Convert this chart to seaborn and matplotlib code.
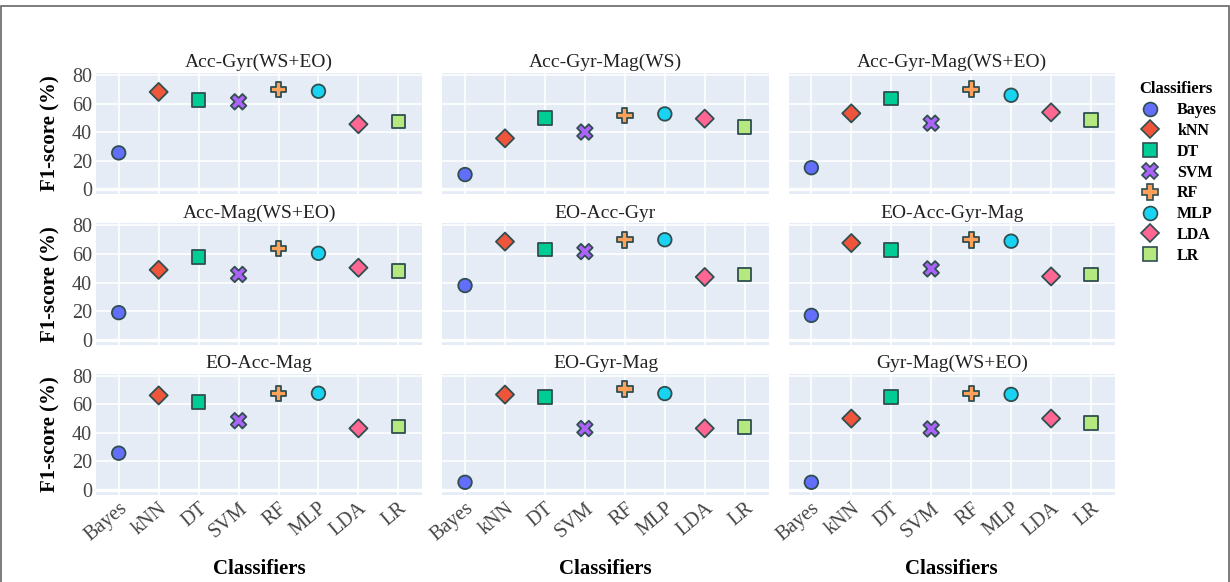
import numpy as np
import pandas as pd
import matplotlib
matplotlib.use('Agg')
import matplotlib.pyplot as plt
from matplotlib.lines import Line2D
from matplotlib.patches import Rectangle
import seaborn as sns

classifiers = ['Bayes', 'kNN', 'DT', 'SVM', 'RF', 'MLP', 'LDA', 'LR']
combos = ['Acc-Gyr(WS+EO)', 'Acc-Gyr-Mag(WS)', 'Acc-Gyr-Mag(WS+EO)',
          'Acc-Mag(WS+EO)', 'EO-Acc-Gyr', 'EO-Acc-Gyr-Mag',
          'EO-Acc-Mag', 'EO-Gyr-Mag', 'Gyr-Mag(WS+EO)']

# F1-score (%) per sensor combination, classifiers in the order above
f1_acc_gyr_ws_eo = [25.5, 68.2, 62.5, 61.3, 69.8, 68.7, 45.6, 47.4]
f1_acc_gyr_mag_ws = [10.3, 35.7, 50.0, 40.1, 51.6, 52.8, 49.5, 43.7]
f1_acc_gyr_mag_ws_eo = [15.1, 53.2, 63.6, 46.3, 70.1, 65.9, 53.9, 48.4]
f1_acc_mag_ws_eo = [18.9, 48.9, 57.8, 45.7, 63.9, 60.5, 50.4, 48.0]
f1_eo_acc_gyr = [37.9, 68.7, 63.1, 61.7, 70.0, 70.0, 43.9, 45.7]
f1_eo_acc_gyr_mag = [17.0, 67.7, 63.0, 49.6, 70.0, 69.0, 44.3, 45.7]
f1_eo_acc_mag = [25.8, 66.3, 61.7, 48.6, 67.8, 67.8, 43.2, 44.5]
f1_eo_gyr_mag = [5.4, 66.9, 65.0, 43.1, 70.8, 67.6, 43.2, 44.3]
f1_gyr_mag_ws_eo = [5.4, 50.1, 65.1, 42.8, 67.8, 67.0, 50.1, 47.1]

scores = [f1_acc_gyr_ws_eo, f1_acc_gyr_mag_ws, f1_acc_gyr_mag_ws_eo,
          f1_acc_mag_ws_eo, f1_eo_acc_gyr, f1_eo_acc_gyr_mag,
          f1_eo_acc_mag, f1_eo_gyr_mag, f1_gyr_mag_ws_eo]

palette = dict(zip(classifiers, ['#636EFA', '#EF553B', '#00CC96', '#AB63FA',
                                 '#FFA15A', '#19D3F3', '#FF6692', '#B6E880']))
markers = dict(zip(classifiers, ['o', 'D', 's', 'X', 'P', 'o', 'D', 's']))
# marker areas so the shapes look the same size as in the plotly original
sizes = dict(zip(classifiers, [95, 85, 95, 125, 125, 95, 85, 95]))
leg_sizes = dict(zip(classifiers, [10, 9, 10, 11.5, 11.5, 10, 9, 10]))

rows = []
for name, vals in zip(combos, scores):
    for c, v in zip(classifiers, vals):
        rows.append({'Combination': name, 'Classifier': c, 'F1': v})
df = pd.DataFrame(rows)

serif = ['Liberation Serif', 'DejaVu Serif']
plt.rcParams['font.family'] = serif

fig, axes = plt.subplots(3, 3, figsize=(12.3, 5.82), dpi=100)
fig.subplots_adjust(left=0.078, right=0.9065, top=0.8746, bottom=0.1495,
                    wspace=0.061, hspace=0.24)

edge = '#2F4F4F'
for i, (ax, name) in enumerate(zip(axes.flat, combos)):
    sub = df[df['Combination'] == name]
    ax.set_facecolor('#E5ECF6')
    ax.set_axisbelow(True)
    ax.grid(True, color='white', linewidth=1.2)
    ax.axhline(0, color='white', linewidth=2.4, zorder=1)
    sns.scatterplot(data=sub, x='Classifier', y='F1', hue='Classifier',
                    style='Classifier', size='Classifier',
                    palette=palette, markers=markers, sizes=sizes,
                    hue_order=classifiers, style_order=classifiers,
                    size_order=classifiers,
                    edgecolor=edge, linewidth=1.3, legend=False,
                    ax=ax, zorder=3)
    ax.set_xlim(-0.57, 7.6)
    ax.set_ylim(-3.5, 81.5)
    ax.set_yticks([0, 20, 40, 60, 80])
    ax.set_xticks(range(len(classifiers)))
    for s in ax.spines.values():
        s.set_visible(False)
    ax.tick_params(length=0, labelsize=14.5, colors='#444444', pad=3)
    ax.set_title(name, fontsize=14, color='#222222', pad=4)
    ax.set_xlabel('')
    ax.set_ylabel('')
    if i % 3 == 0:
        ax.set_ylabel('F1-score (%)', fontsize=15, fontweight='bold',
                      color='black', labelpad=8)
    else:
        ax.set_yticklabels([])
    if i >= 6:
        ax.set_xticklabels(classifiers, rotation=40, ha='right',
                           rotation_mode='anchor', fontsize=14.5)
        ax.set_xlabel('Classifiers', fontsize=15, fontweight='bold',
                      color='black', labelpad=10)
    else:
        ax.set_xticklabels([])

handles = [Line2D([0], [0], linestyle='none', marker=markers[c],
                  markerfacecolor=palette[c], markeredgecolor=edge,
                  markeredgewidth=1.2, markersize=leg_sizes[c])
           for c in classifiers]
leg = fig.legend(handles, classifiers, title='Classifiers',
                 loc='upper left', bbox_to_anchor=(0.922, 0.86),
                 frameon=False, prop={'weight': 'bold', 'size': 11.5},
                 handletextpad=0.7, labelspacing=0.3, borderaxespad=0,
                 borderpad=0)
leg.get_title().set_fontweight('bold')
leg.get_title().set_fontsize(12)

fig.patches.append(Rectangle((0.0008, -0.01), 0.998, 1 - 6 / 582 + 0.01,
                             transform=fig.transFigure, fill=False,
                             edgecolor='#666666', linewidth=1.2))

fig.savefig('out.png', dpi=100)
